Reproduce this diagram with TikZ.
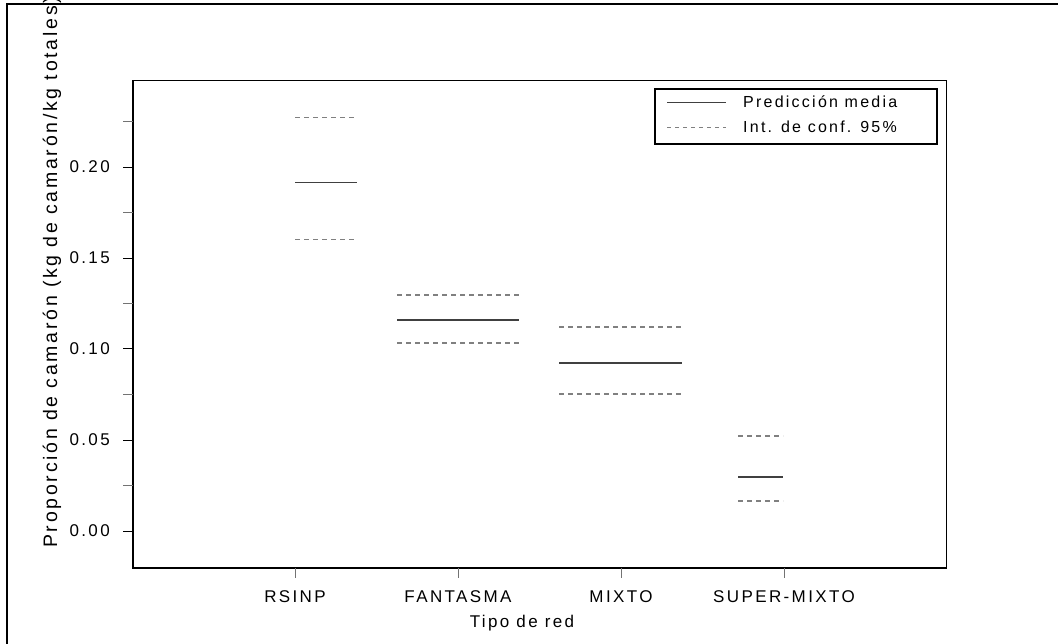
\documentclass[tikz,border=0pt]{standalone}
\usepackage{fontspec}
\setmainfont{Liberation Sans}[LetterSpace=14]
\tikzset{Media/.style={draw=black!75,line width=1.4pt}}
\tikzset{Conf/.style={draw=black!50,line width=1.2pt,dash pattern=on 5pt off 4pt}}
\tikzset{Etiq/.style={inner sep=0pt,font=\fontsize{17}{19}\selectfont}}
\tikzset{EtiqL/.style={inner sep=0pt,font=\fontsize{16}{18}\selectfont}}
\tikzset{EtiqY/.style={inner sep=0pt,font=\fontsize{19.5}{21}\selectfont}}
\tikzset{Marca/.style={draw=black!55,line width=1pt}}

\begin{document}
\begin{tikzpicture}[x=1pt,y=1pt]
\useasboundingbox (0,0) rectangle (1058,-643);

% marcos
\draw[line width=2pt] (7,-700) -- (7,-4) -- (1100,-4);
\draw[line width=1pt] (133,-80) rectangle (946,-568);
\draw[line width=2pt] (133,-80) -- (133,-568) -- (946,-568);

% eje vertical
\foreach \v in {0.00,0.05,0.10,0.15,0.20}{
  \draw[line width=1pt] (123,{-531+1820*\v}) -- (133,{-531+1820*\v});
  \node[Etiq,anchor=east] at (110,{-531+1820*\v}) {\v};
}
\foreach \v in {0.025,0.075,0.125,0.175,0.225}
  \draw[Marca] (123,{-531+1820*\v}) -- (133,{-531+1820*\v});
\node[EtiqY,rotate=90,anchor=west] (EjeY) at (52,-548) {Proporción de camarón (kg de camarón/kg totales)};

% eje horizontal
\node[Etiq] (RSINP) at (295,-597) {RSINP};
\node[Etiq] (FANT) at (458,-597) {FANTASMA};
\node[Etiq] (MIXTO) at (621,-597) {MIXTO};
\node[Etiq] (SUPER) at (784,-597) {SUPER-MIXTO};
\foreach \x in {295,458,621,784}
  \draw[Marca] (\x,-568) -- (\x,-578);
\node[Etiq] (EjeX) at (522,-623) {Tipo de red};

% predicciones
\foreach \a/\b/\lo/\me/\up in {295/357/0.1603/0.1916/0.2270,397/519/0.1033/0.1159/0.1297,559/682/0.0753/0.0923/0.1121,738/783/0.0165/0.0297/0.0522}{
  \draw[Conf] (\a,{-531+1820*\up}) -- (\b,{-531+1820*\up});
  \draw[Media] (\a,{-531+1820*\me}) -- (\b,{-531+1820*\me});
  \draw[Conf] (\a,{-531+1820*\lo}) -- (\b,{-531+1820*\lo});
}

% leyenda
\node[draw,line width=2pt,minimum width=282pt,minimum height=55pt,anchor=north west] (Ley) at (654,-88) {};
\node[EtiqL,anchor=west] (LeyM) at (743,-102) {Predicción media};
\node[EtiqL,anchor=west] (LeyC) at (743,-127) {Int. de conf. 95\%};
\draw[Media,line width=1pt] (667,-102) -- (726,-102);
\draw[Conf,line width=1pt,dash pattern=on 4pt off 4pt] (667,-127) -- (726,-127);

\end{tikzpicture}
\end{document}
